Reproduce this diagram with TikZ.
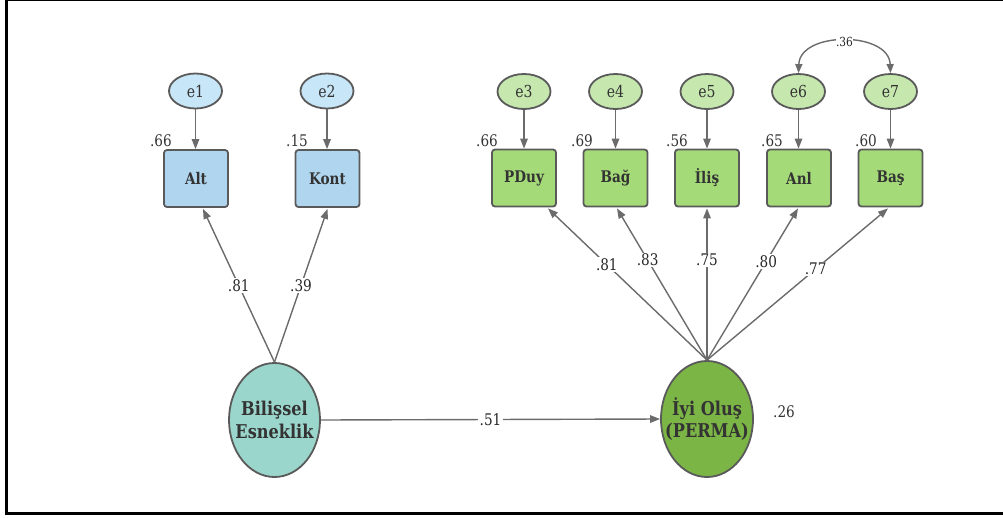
\documentclass[tikz,border=0pt]{standalone}
\usepackage{fontspec}
\setmainfont{DejaVu Serif}[FakeStretch=0.85]
\usetikzlibrary{shapes.geometric,arrows.meta,calc}
\definecolor{linec}{HTML}{6B6B6B}
\definecolor{bordc}{HTML}{5A5A5A}
\definecolor{txtc}{HTML}{333333}
\definecolor{eblue}{HTML}{C7E6F8}
\definecolor{bblue}{HTML}{B0D5EF}
\definecolor{egreen}{HTML}{C6E8AF}
\definecolor{bgreen}{HTML}{A4DA78}
\definecolor{latA}{HTML}{9AD6CB}
\definecolor{latB}{HTML}{7BB545}
\tikzset{
  errnode/.style={ellipse,draw=bordc,line width=1.8pt,minimum width=53pt,minimum height=35pt,inner sep=0pt,text=txtc,font=\fontsize{16.5}{18}\selectfont},
  obsbox/.style={rectangle,rounded corners=3pt,draw=bordc,line width=1.8pt,minimum width=64pt,minimum height=57pt,inner sep=0pt,text=txtc,font=\fontsize{16}{18}\selectfont\bfseries},
  latnode/.style={ellipse,draw=bordc,line width=1.8pt,inner xsep=-10pt,inner ysep=0pt,text=txtc,align=center,font=\fontsize{19}{22.5}\selectfont\bfseries},
  conn/.style={draw=linec,line width=1.4pt,-{Triangle[length=10pt,width=7.5pt]}},
  coef/.style={fill=white,inner sep=1.2pt,text=black!85,font=\fontsize{16}{18}\selectfont},
  varlab/.style={inner sep=0pt,text=txtc,font=\fontsize{16}{18}\selectfont},
}
\begin{document}
\begin{tikzpicture}[x=1pt,y=-1pt]
\useasboundingbox (0,0) rectangle (1003,517);
% frame
\draw[line width=1.2pt] (5,0.6) -- (1003,0.6);
\draw[line width=3pt] (6.5,0) -- (6.5,515);
\draw[line width=2.8pt] (5,513.4) -- (1003,513.4);

% error terms
\node[errnode,fill=eblue] (e1) at (195.5,91) {e1};
\node[errnode,fill=eblue] (e2) at (327,91) {e2};
\node[errnode,fill=egreen] (e3) at (524,91.5) {e3};
\node[errnode,fill=egreen] (e4) at (615.5,91.5) {e4};
\node[errnode,fill=egreen] (e5) at (707,91.5) {e5};
\node[errnode,fill=egreen] (e6) at (798.5,91.5) {e6};
\node[errnode,fill=egreen] (e7) at (890.5,91.5) {e7};

% observed
\node[obsbox,fill=bblue] (Alt) at (196,178.5) {Alt};
\node[obsbox,fill=bblue] (Kont) at (327.5,178.5) {Kont};
\node[obsbox,fill=bgreen] (PDuy) at (524,178) {PDuy};
\node[obsbox,fill=bgreen] (Bag) at (615.5,178) {Bağ};
\node[obsbox,fill=bgreen] (Ilis) at (707,178) {İliş};
\node[obsbox,fill=bgreen] (Anl) at (799,178) {Anl};
\node[obsbox,fill=bgreen] (Bas) at (890.5,178) {Baş};

% latent
\node[latnode,fill=latA,minimum width=91pt,minimum height=114pt] (BE) at (274.5,420) {Bilişsel\\Esneklik};
\node[latnode,fill=latB,minimum width=92pt,minimum height=116pt] (IO) at (707,419) {İyi Oluş\\(PERMA)};

% error arrows
\foreach \e/\b in {e1/Alt,e2/Kont,e3/PDuy,e4/Bag,e5/Ilis,e6/Anl,e7/Bas}{
  \draw[conn] (\e.south) -- (\e.south |- \b.north);
}

% variance labels
\node[varlab,anchor=base east] (v1) at (172,146) {.66};
\node[varlab,anchor=base east] (v2) at (308,146) {.15};
\node[varlab,anchor=base east] (v3) at (498,146) {.66};
\node[varlab,anchor=base east] (v4) at (593,146) {.69};
\node[varlab,anchor=base east] (v5) at (688,146) {.56};
\node[varlab,anchor=base east] (v6) at (783,146) {.65};
\node[varlab,anchor=base east] (v7) at (877,146) {.60};
\node[varlab,anchor=base west] (v8) at (773,417) {.26};

% covariance
\draw[draw=linec,line width=1.4pt,{Triangle[length=9pt,width=7pt]}-{Triangle[length=9pt,width=7pt]}]
  (e6.north) .. controls (800,31) and (889,31) .. node[pos=0.5,coef,font=\fontsize{12.5}{14}\selectfont,inner sep=0.5pt] (c67) {.36} (e7.north);

% loadings left
\draw[conn] (BE.north) -- node[coef,pos=0.5] (l1) {.81} ($(Alt.south)+(7,1)$);
\draw[conn] (BE.north) -- node[coef,pos=0.5] (l2) {.39} ($(Kont.south)+(0,1)$);

% loadings right
\draw[conn] (IO.north) -- node[coef,pos=0.63] (l3) {.81} ($(PDuy.south)+(24,1)$);
\draw[conn] (IO.north) -- node[coef,pos=0.66] (l4) {.83} ($(Bag.south)+(1.5,1)$);
\draw[conn] (IO.north) -- node[coef,pos=0.66] (l5) {.75} ($(Ilis.south)+(0,1)$);
\draw[conn] (IO.north) -- node[coef,pos=0.65] (l6) {.80} ($(Anl.south)+(-1,1)$);
\draw[conn] (IO.north) -- node[coef,pos=0.60] (l7) {.77} ($(Bas.south)+(-2.5,1)$);

% structural path
\draw[conn] (BE.east) -- node[coef,pos=0.5] (p1) {.51} (IO.west);
\end{tikzpicture}
\end{document}
